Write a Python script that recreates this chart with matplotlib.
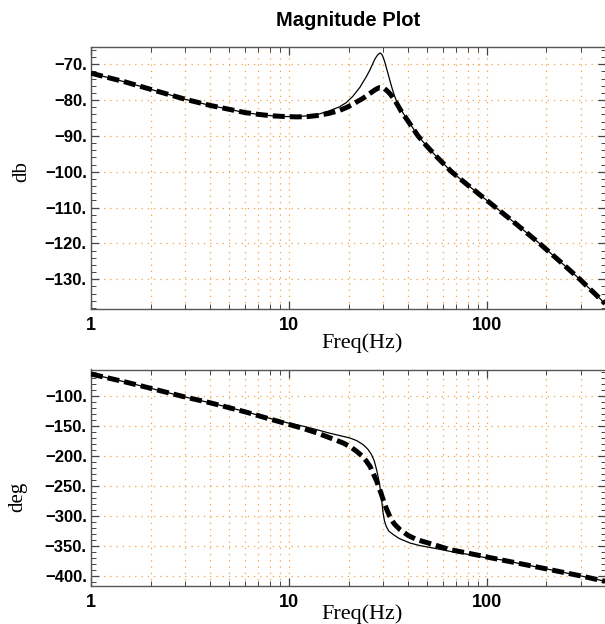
import matplotlib
matplotlib.use("Agg")
import matplotlib.pyplot as plt
from matplotlib.ticker import FixedLocator, FuncFormatter, NullFormatter

# ---------------- data ----------------
mag_dashed_freq = [1, 1.5, 2, 3, 4, 5, 6, 7, 8.2, 9.5, 11, 12.5, 14, 16, 18, 19.5, 21, 22.5,
                   23.7, 25, 26.5, 27.7, 28.8, 30, 31, 32, 33, 34, 35, 37, 40.7, 44.9,
                   50, 55.5, 66.3, 80, 111, 140, 184.5, 235, 295, 396]
mag_dashed_db = [-72.5, -75.0, -77.0, -79.8, -81.5, -82.6, -83.5, -84.0, -84.4, -84.6, -84.7,
                 -84.6, -84.3, -83.7, -82.9, -82.1, -81.2, -80.2,
                 -79.5, -78.6, -77.6, -76.9, -76.5, -76.6, -77.2, -77.9, -78.8, -79.8, -80.9,
                 -83.2, -86.5, -90.0,
                 -93.0, -95.7, -100.0, -103.7, -110.0, -114.5, -120.0, -125.1, -130.0, -136.8]

mag_thin_freq = [1, 1.5, 2, 3, 4, 5, 6, 7, 8.2, 9.5, 11, 12.5, 14, 16, 18, 19.5, 21, 22.8,
                 24.6, 25.6, 26.5, 27.3, 28.0, 28.6, 29.0, 29.5, 30.0, 30.5, 31.0, 31.7, 32.5,
                 33.2, 34.0, 35.0, 37, 40.7, 44.9,
                 50, 55.5, 66.3, 80, 111, 140, 184.5, 235, 295, 396]
mag_thin_db = [-72.5, -75.0, -77.0, -79.8, -81.5, -82.6, -83.5, -84.0, -84.4, -84.6, -84.6,
               -84.4, -84.0, -83.0, -81.9, -80.7, -79.0, -76.5,
               -73.5, -71.7, -69.9, -68.4, -67.5, -67.0, -66.9, -67.3, -68.2, -69.4, -70.8,
               -72.7, -74.9, -76.7, -78.5, -80.4, -82.9, -86.4, -90.0,
               -93.0, -95.7, -100.0, -103.7, -110.0, -114.5, -120.0, -125.1, -130.0, -136.8]

ph_dashed_freq = [1, 1.5, 2, 3, 4, 6, 8, 10, 12, 13.8, 16, 18.8, 20.5, 22, 23.4, 24.6, 25.7,
                  26.6, 27.7, 28.8, 29.9, 31, 32.3, 34, 36.3, 40, 44.2, 53.5, 65, 80, 100,
                  147, 201, 303, 396]
ph_dashed_deg = [-64, -77.5, -87.8, -102.5, -112, -127, -139, -148, -155.5, -162, -170, -179,
                 -185.5, -193, -200.5, -209, -218, -229, -242, -257, -273, -287.5, -301,
                 -313.5, -323, -333, -340, -348, -356.7, -362.5, -369, -380, -389, -401, -409.5]

ph_thin_freq = [1, 1.5, 2, 3, 4, 6, 8, 10, 12, 13.8, 16, 18, 20.3, 22, 23.7, 25, 26.1, 27.0,
                27.7, 28.3, 28.8, 29.3, 29.9, 30.4, 31, 32, 33.7, 36, 40.8, 45.9, 53.5, 65,
                80, 100, 120, 147, 201, 303, 396]
ph_thin_deg = [-64, -77.5, -87.8, -102.5, -112, -126.5, -138, -146, -151.5, -156.7, -162.5,
               -166.5, -170.6, -175, -181.7, -189, -198, -209, -223, -237, -251, -268,
               -295.6, -309, -317.8, -326, -331.7, -338, -345.6, -350, -354, -359.5,
               -364.5, -370.5, -374, -380, -389, -401, -409.5]

mag_yticks = [-130, -120, -110, -100, -90, -80, -70]
ph_yticks = [-400, -350, -300, -250, -200, -150, -100]
x_major = [1, 10, 100]
x_major_labels = ["1", "10", "100"]

# ---------------- figure ----------------
W, H = 605, 624
fig = plt.figure(figsize=(W / 100, H / 100), dpi=100)

def px_axes(left, top, right, bottom):
    return fig.add_axes([left / W, 1 - bottom / H, (right - left) / W, (bottom - top) / H])

ax1 = px_axes(91, 47, 606, 309)
ax2 = px_axes(91, 369.5, 606, 585.5)

grid_color = "#f7a040"

def num_fmt(v, pos):
    return ("\u2212" if v < 0 else "") + f"{abs(int(round(v)))}."

def x_fmt(v, pos):
    r = int(round(v))
    return x_major_labels[x_major.index(r)] if r in x_major else ""

def style(ax, yticks, ylim, yminor_step):
    ax.set_xscale("log")
    ax.set_xlim(1, 400)
    ax.set_ylim(*ylim)
    minors = [m * d for d in (1, 10, 100) for m in range(2, 10) if m * d <= 400]
    ax.xaxis.set_major_locator(FixedLocator(x_major))
    ax.xaxis.set_minor_locator(FixedLocator(minors))
    ax.xaxis.set_major_formatter(FuncFormatter(x_fmt))
    ax.xaxis.set_minor_formatter(NullFormatter())
    ax.yaxis.set_major_locator(FixedLocator(yticks))
    ymin = int(ylim[0]) - 10
    ax.yaxis.set_minor_locator(FixedLocator(list(range(ymin - ymin % yminor_step, int(ylim[1]) + 1, yminor_step))))
    ax.yaxis.set_major_formatter(FuncFormatter(num_fmt))
    ax.tick_params(which="both", direction="in", top=True, right=True, color="#444444")
    ax.tick_params(which="major", length=6, width=0.9)
    ax.tick_params(which="minor", length=3.5, width=0.7)
    ax.tick_params(axis="y", labelsize=12, pad=3)
    ax.tick_params(axis="x", labelsize=13, pad=6)
    for s in ax.spines.values():
        s.set_color("#555555")
        s.set_linewidth(1.0)
    for v in x_major + minors:
        ax.axvline(v, color=grid_color, linestyle=(0, (1, 4)), linewidth=0.9, zorder=0)
    for v in yticks:
        ax.axhline(v, color=grid_color, linestyle=(0, (1, 4)), linewidth=0.9, zorder=0)

style(ax1, mag_yticks, (-138.3, -65.2), 2)
style(ax2, ph_yticks, (-416.5, -56.5), 10)

ax1.plot(mag_thin_freq, mag_thin_db, color="black", linewidth=0.9, zorder=3)
ax1.plot(mag_dashed_freq, mag_dashed_db, color="black", linewidth=3.6,
         linestyle=(0, (2.4, 1.0)), zorder=4)
ax2.plot(ph_thin_freq, ph_thin_deg, color="black", linewidth=0.9, zorder=3)
ax2.plot(ph_dashed_freq, ph_dashed_deg, color="black", linewidth=3.6,
         linestyle=(0, (2.4, 1.0)), zorder=4)

for ax in (ax1, ax2):
    for lab in ax.get_xticklabels() + ax.get_yticklabels():
        lab.set_fontfamily("Liberation Sans")
        lab.set_fontweight("bold")

fig.text(348.5 / W, 1 - 21 / H, "Magnitude Plot", ha="center", va="center",
         fontsize=14.5, fontweight="bold", family="Liberation Sans")
fig.text(362 / W, 1 - 343 / H, "Freq(Hz)", ha="center", va="center",
         fontsize=16, family="Liberation Serif")
fig.text(362 / W, 1 - 614 / H, "Freq(Hz)", ha="center", va="center",
         fontsize=16, family="Liberation Serif")
fig.text(22 / W, 1 - 172 / H, "db", ha="center", va="center", rotation=90,
         fontsize=15, family="Liberation Serif")
fig.text(18 / W, 1 - 497 / H, "deg", ha="center", va="center", rotation=90,
         fontsize=15, family="Liberation Serif")

fig.savefig("out.png", dpi=100)
